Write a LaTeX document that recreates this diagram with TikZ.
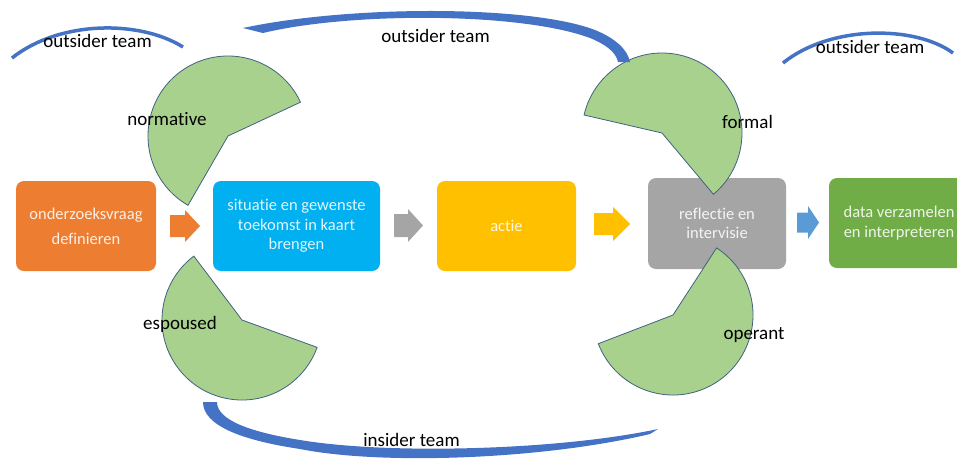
\documentclass[tikz,border=0pt]{standalone}
\usepackage{fontspec}
\setmainfont{Carlito}[Ligatures={NoCommon}]
\definecolor{orangeC}{HTML}{ED7D31}
\definecolor{blueC}{HTML}{00B0F0}
\definecolor{yellowC}{HTML}{FFC000}
\definecolor{grayC}{HTML}{A5A5A5}
\definecolor{greenC}{HTML}{70AD47}
\definecolor{arrowBlue}{HTML}{5B9BD5}
\definecolor{arcC}{HTML}{4472C4}
\definecolor{pieC}{HTML}{A9D18E}
\definecolor{pieLine}{HTML}{41617F}
\tikzset{
  box/.style={rounded corners=8pt, minimum height=90pt, align=center, inner sep=2pt,
              font=\fontsize{16.5}{19.5}\selectfont},
  pie/.style={fill=pieC, draw=pieLine, line width=0.8pt},
  lbl/.style={font=\fontsize{19}{22}\selectfont, text=black, inner sep=0pt, anchor=base},
  barc/.style={draw=arcC, line width=3.5pt},
}
\newcommand\blockarr[7]{%
  \fill[#7] (#1,#4-#5) -- (#2,#4-#5) -- (#2,#4-#6) -- (#3,#4) -- (#2,#4+#6) -- (#2,#4+#5) -- (#1,#4+#5) -- cycle;}
\begin{document}
\begin{tikzpicture}[x=1pt,y=-1pt]
\useasboundingbox (0,0) rectangle (957,464);
\clip (0,0) rectangle (957,464);
% boxes
\node[box, fill=orangeC, minimum width=140pt, text=white!88!orangeC,
      font=\fontsize{16.5}{25}\selectfont] (o) at (86,226) {onderzoeksvraag\\definieren};
\node[box, fill=blueC, minimum width=167pt, text=white!88!blueC] (b) at (296.5,226)
      {situatie en gewenste\\toekomst in kaart\\brengen};
\node[box, fill=yellowC, minimum width=139pt, text=white!85!yellowC] (a) at (506.5,226) {actie};
\node[box, fill=grayC, minimum width=138pt, minimum height=91pt, text=white!88!grayC] (r) at (717,223.5)
      {reflectie en\\intervisie};
\node[box, fill=greenC, minimum width=140pt, text=white!88!greenC] (d) at (899,223)
      {data verzamelen\\en interpreteren};
% block arrows
\blockarr{170}{185}{200}{226}{11}{16}{orangeC}
\blockarr{394}{408}{423}{225.5}{11.5}{16.5}{grayC}
\blockarr{594}{613}{630}{224}{11}{17}{yellowC}
\blockarr{797}{808}{819}{222.5}{10}{16.5}{arrowBlue}
% pies
\filldraw[pie] (228,136) -- ++(-25:80) arc[start angle=-25, end angle=-240, radius=80] -- cycle;
\filldraw[pie] (662,133) -- ++(50:80) arc[start angle=50, end angle=-167, radius=80] -- cycle;
\filldraw[pie] (242,320) -- ++(-127:80) arc[start angle=-127, end angle=-340, radius=80] -- cycle;
\filldraw[pie] (673,315) -- ++(159:80) arc[start angle=159, end angle=-57, radius=80] -- cycle;
% arcs
\draw[barc] (12,58) .. controls (60,20) and (140,20) .. (183,47);
\draw[barc] (783,63) .. controls (830,25) and (915,25) .. (953,53);
\fill[arcC] (243,28) .. controls (350,5) and (530,5) .. (595,30)
  .. controls (615,38) and (628,50) .. (630,62) -- (618,62)
  .. controls (616,52) and (605,44) .. (590,38)
  .. controls (520,12) and (350,12) .. (263,33) -- cycle;
\fill[arcC] (203,402) .. controls (203,425) and (240,440) .. (300,449)
  .. controls (380,465) and (540,460) .. (650,434) -- (658,429)
  .. controls (560,450) and (390,455) .. (300,440)
  .. controls (250,432) and (217,420) .. (217,402) -- cycle;
% labels
\node[lbl] (t1) at (97.5,47) {outsider team};
\node[lbl] (t2) at (435.5,42) {outsider team};
\node[lbl] (t3) at (870,53) {outsider team};
\node[lbl] (t4) at (411.5,446) {insider team};
\node[lbl] (l1) at (167,125) {normative};
\node[lbl] (l2) at (747.5,128) {formal};
\node[lbl] (l3) at (180,329) {espoused};
\node[lbl] (l4) at (754,339) {operant};
\end{tikzpicture}
\end{document}
